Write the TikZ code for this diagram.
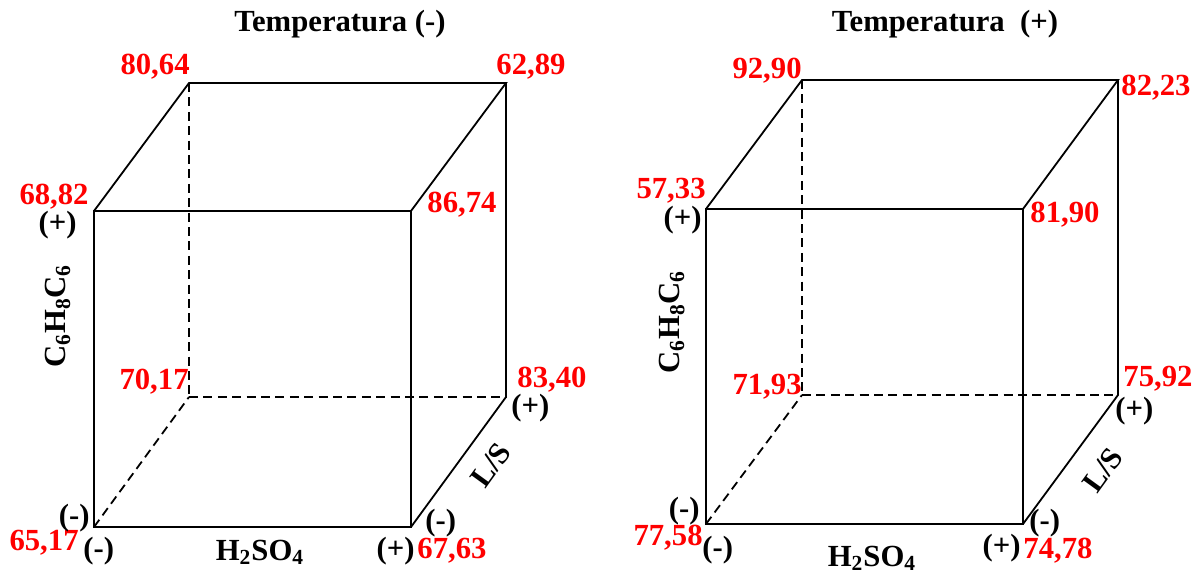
\documentclass[tikz,border=0pt]{standalone}
\usepackage{fontspec}
\setmainfont{Liberation Serif}
\usepackage{tikz}
\usetikzlibrary{positioning, calc}

\begin{document}
\begin{tikzpicture}[
    x=0.5pt, y=-0.5pt,
    every node/.style={inner sep=0pt, font=\fontsize{15.35}{18}\selectfont\bfseries},
    cubeedge/.style={line width=0.9pt},
    hiddenedge/.style={line width=0.9pt, dash pattern=on 4.5pt off 2.7pt},
    valnum/.style={text=red},
    signlbl/.style={text=black},
    axislbl/.style={text=black},
]
    \useasboundingbox (0,0) rectangle (1200,573);

    % left cube: Temperatura (-)
    \coordinate (lftl) at (94,211);
    \coordinate (lftr) at (411,211);
    \coordinate (lfbl) at (94,527);
    \coordinate (lfbr) at (411,527);
    \coordinate (lbtl) at (189,83);
    \coordinate (lbtr) at (506,83);
    \coordinate (lbbl) at (189,397);
    \coordinate (lbbr) at (506,397);

    \draw[cubeedge] (lftl) -- (lftr) -- (lfbr) -- (lfbl) -- cycle;
    \draw[cubeedge] (lftl) -- (lbtl) -- (lbtr) -- (lftr);
    \draw[cubeedge] (lbtr) -- (lbbr) -- (lfbr);
    \draw[hiddenedge] (lbtl) -- (lbbl);
    \draw[hiddenedge] (lbbl) -- (lbbr);
    \draw[hiddenedge] (lfbl) -- (lbbl);

    \node[anchor=base] (ltitle) at (340,32) {Temperatura (-)};
    \node[valnum, anchor=base east] (lv1) at (190,74) {80,64};
    \node[valnum, anchor=base west] (lv2) at (496,74) {62,89};
    \node[valnum, anchor=base east] (lv3) at (89,204) {68,82};
    \node[valnum, anchor=base west] (lv4) at (427,212) {86,74};
    \node[valnum, anchor=base east] (lv5) at (189,389) {70,17};
    \node[valnum, anchor=base west] (lv6) at (517,387) {83,40};
    \node[valnum, anchor=base west] (lv7) at (417,558) {67,63};
    \node[valnum, anchor=base east] (lv8) at (79,550) {65,17};

    \node[signlbl, anchor=base east] (ls1) at (77,232) {(+)};
    \node[signlbl, anchor=base east] (ls2) at (90,525) {(-)};
    \node[signlbl, anchor=base west] (ls3) at (83,558) {(-)};
    \node[signlbl, anchor=base east] (ls4) at (415,558) {(+)};
    \node[signlbl, anchor=base west] (ls5) at (425,530) {(-)};
    \node[signlbl, anchor=base west] (ls6) at (511,415) {(+)};

    \node[axislbl, anchor=base] (lh2so4) at (260,560) {H\textsubscript{2}SO\textsubscript{4}};
    \node[axislbl, rotate=90] (lc6h8c6) at (58,316) {C\textsubscript{6}H\textsubscript{8}C\textsubscript{6}};
    \node[axislbl, rotate=54] (lls) at (491,465) {L/S};

    % right cube: Temperatura (+)
    \coordinate (rftl) at (706,209);
    \coordinate (rftr) at (1023,209);
    \coordinate (rfbl) at (706,524);
    \coordinate (rfbr) at (1023,524);
    \coordinate (rbtl) at (802,80);
    \coordinate (rbtr) at (1118,80);
    \coordinate (rbbl) at (802,395);
    \coordinate (rbbr) at (1118,395);

    \draw[cubeedge] (rftl) -- (rftr) -- (rfbr) -- (rfbl) -- cycle;
    \draw[cubeedge] (rftl) -- (rbtl) -- (rbtr) -- (rftr);
    \draw[cubeedge] (rbtr) -- (rbbr) -- (rfbr);
    \draw[hiddenedge] (rbtl) -- (rbbl);
    \draw[hiddenedge] (rbbl) -- (rbbr);
    \draw[hiddenedge] (rfbl) -- (rbbl);

    \node[anchor=base] (rtitle) at (945,32) {Temperatura \ (+)};
    \node[valnum, anchor=base east] (rv1) at (802,78) {92,90};
    \node[valnum, anchor=base west] (rv2) at (1121,95) {82,23};
    \node[valnum, anchor=base east] (rv3) at (706,198) {57,33};
    \node[valnum, anchor=base west] (rv4) at (1030,222) {81,90};
    \node[valnum, anchor=base east] (rv5) at (802,394) {71,93};
    \node[valnum, anchor=base west] (rv6) at (1123,386) {75,92};
    \node[valnum, anchor=base west] (rv7) at (1023,558) {74,78};
    \node[valnum, anchor=base east] (rv8) at (703,545) {77,58};

    \node[signlbl, anchor=base east] (rs1) at (702,227) {(+)};
    \node[signlbl, anchor=base east] (rs2) at (700,518) {(-)};
    \node[signlbl, anchor=base west] (rs3) at (702,557) {(-)};
    \node[signlbl, anchor=base east] (rs4) at (1021,555) {(+)};
    \node[signlbl, anchor=base west] (rs5) at (1029,530) {(-)};
    \node[signlbl, anchor=base west] (rs6) at (1115,418) {(+)};

    \node[axislbl, anchor=base] (rh2so4) at (872,566) {H\textsubscript{2}SO\textsubscript{4}};
    \node[axislbl, rotate=90] (rc6h8c6) at (672,322) {C\textsubscript{6}H\textsubscript{8}C\textsubscript{6}};
    \node[axislbl, rotate=54] (rls) at (1103,470) {L/S};
\end{tikzpicture}
\end{document}
